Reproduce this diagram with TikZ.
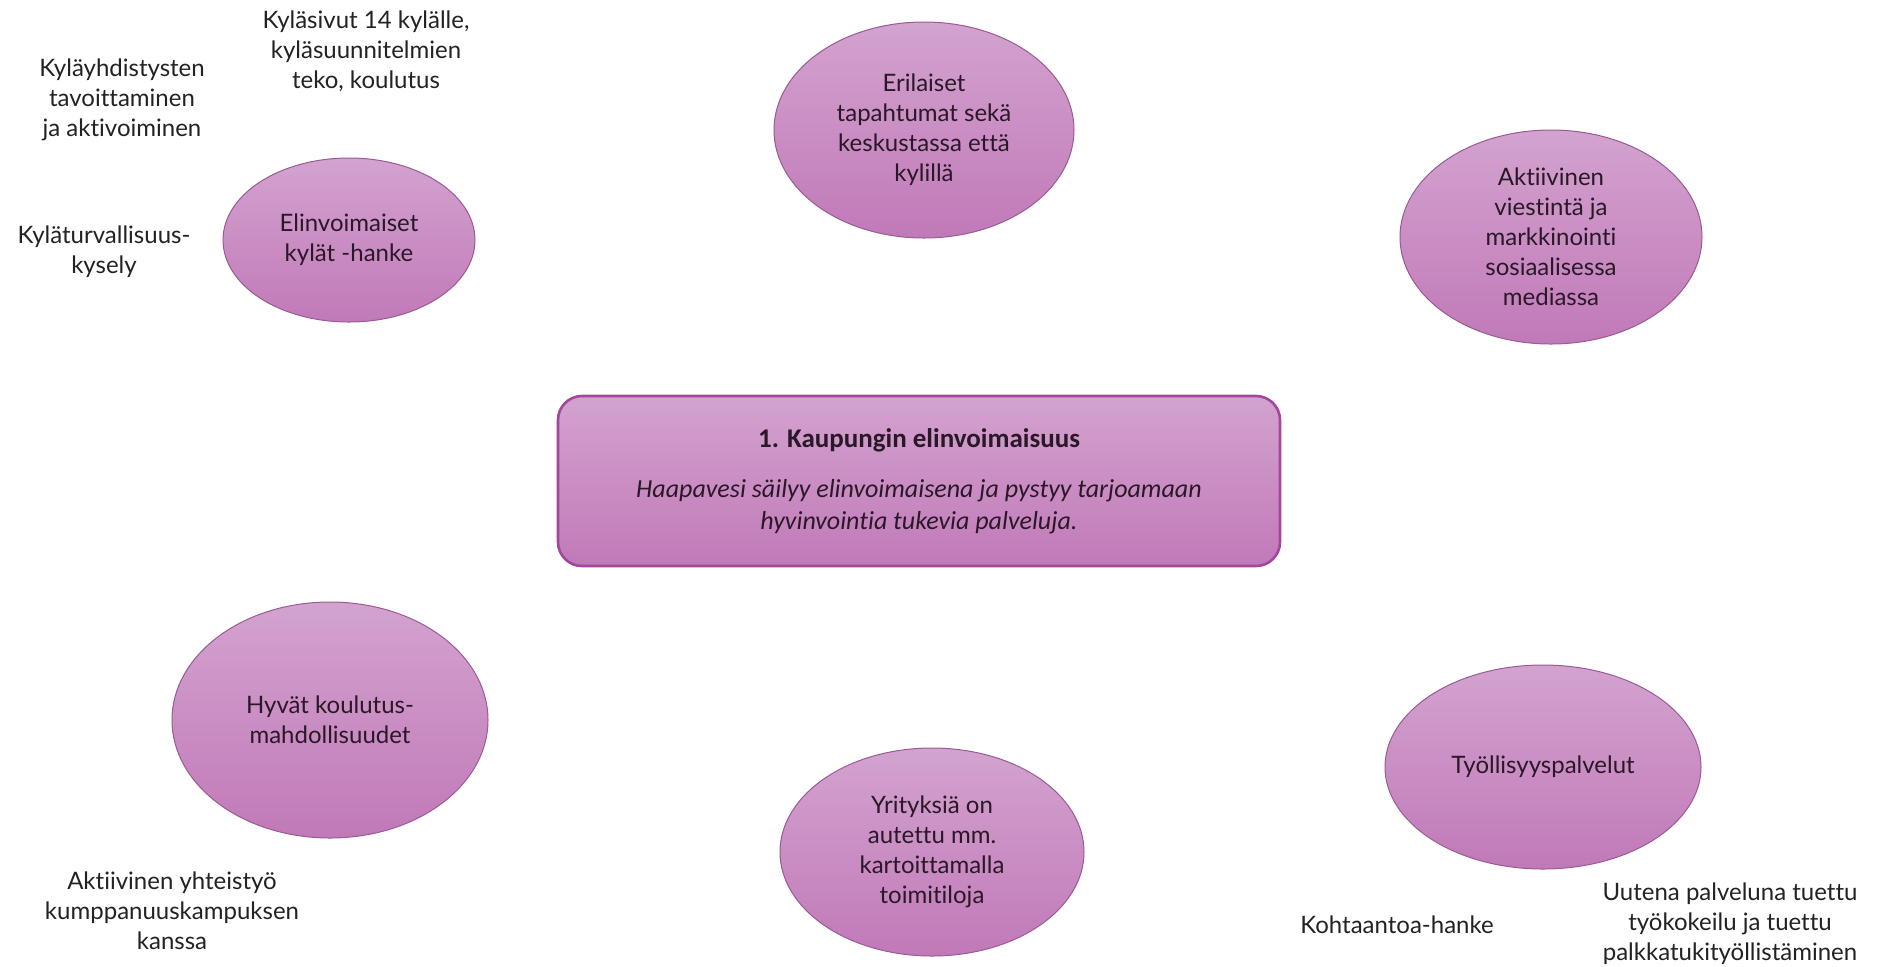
\documentclass[tikz,border=0pt]{standalone}
\usepackage{fontspec}
\setmainfont{Lato}[Ligatures={NoCommon,NoContextual,NoRequired}]
\newfontfamily\boxfont{Carlito}[Ligatures={NoCommon,NoContextual,NoRequired}]
\usetikzlibrary{shapes.geometric}
\definecolor{lilatop}{HTML}{D3A3CF}
\definecolor{lilabot}{HTML}{C179B8}
\definecolor{lilaline}{HTML}{9A5A95}
\definecolor{lilaframe}{HTML}{A3479D}
\definecolor{inkgoal}{HTML}{2A1828}
\definecolor{inknote}{HTML}{222222}
\tikzstyle{goal}=[ellipse, draw=lilaline, line width=0.5pt, top color=lilatop, bottom color=lilabot, inner sep=0pt, align=center, text=inkgoal, font=\fontsize{12}{15}\selectfont]
\tikzstyle{aim}=[rectangle, rounded corners=12pt, draw=lilaframe, line width=1.3pt, top color=lilatop, bottom color=lilabot, minimum width=361pt, minimum height=85pt, align=center, text=inkgoal, font=\boxfont\fontsize{13}{16}\selectfont]
\tikzstyle{side}=[align=center, inner sep=0pt, text=inknote, font=\fontsize{12}{15}\selectfont]
\newcommand{\goal}{\node[goal]}
\newcommand{\side}{\node[side]}

\begin{document}
\begin{tikzpicture}[x=0.5pt, y=-0.5pt]
\useasboundingbox (0,0) rectangle (1879,966);
\node[aim] (aim) at (919,481) {{\bfseries\fontsize{13.5}{16}\selectfont 1. Kaupungin elinvoimaisuus}\\[9pt]
  {\itshape Haapavesi säilyy elinvoimaisena ja pystyy tarjoamaan}\\
  {\itshape hyvinvointia tukevia palveluja.}};
\goal[minimum width=126pt, minimum height=82pt] (kylat) at (349,240) {Elinvoimaiset\\kylät -hanke};
\goal[minimum width=150pt, minimum height=108pt] (tapahtumat) at (924,130) {Erilaiset\\tapahtumat sekä\\keskustassa että\\kylillä};
\goal[minimum width=151pt, minimum height=107pt] (viestinta) at (1551,237) {Aktiivinen\\viestintä ja\\markkinointi\\sosiaalisessa\\mediassa};
\goal[minimum width=158pt, minimum height=118pt] (koulutus) at (330,720) {Hyvät koulutus-\\mahdollisuudet};
\goal[minimum width=152pt, minimum height=104pt] (yritykset) at (932,852) {Yrityksiä on\\autettu mm.\\kartoittamalla\\toimitiloja};
\goal[minimum width=158pt, minimum height=102pt] (tyollisyys) at (1543,767) {Työllisyyspalvelut};
\side (sivut) at (366,51) {Kyläsivut 14 kylälle,\\kyläsuunnitelmien\\teko, koulutus};
\side (yhdistykset) at (122,100) {Kyläyhdistysten\\tavoittaminen\\ja aktivoiminen};
\side (turvallisuus) at (104,252) {Kyläturvallisuus-\\kysely};
\side (kampus) at (172,911) {Aktiivinen yhteistyö\\kumppanuuskampuksen\\kanssa};
\side (kohtaanto) at (1397,925) {Kohtaantoa-hanke};
\side (uutena) at (1730,924) {Uutena palveluna tuettu\\työkokeilu ja tuettu\\palkkatukityöllistäminen};
\end{tikzpicture}
\end{document}
